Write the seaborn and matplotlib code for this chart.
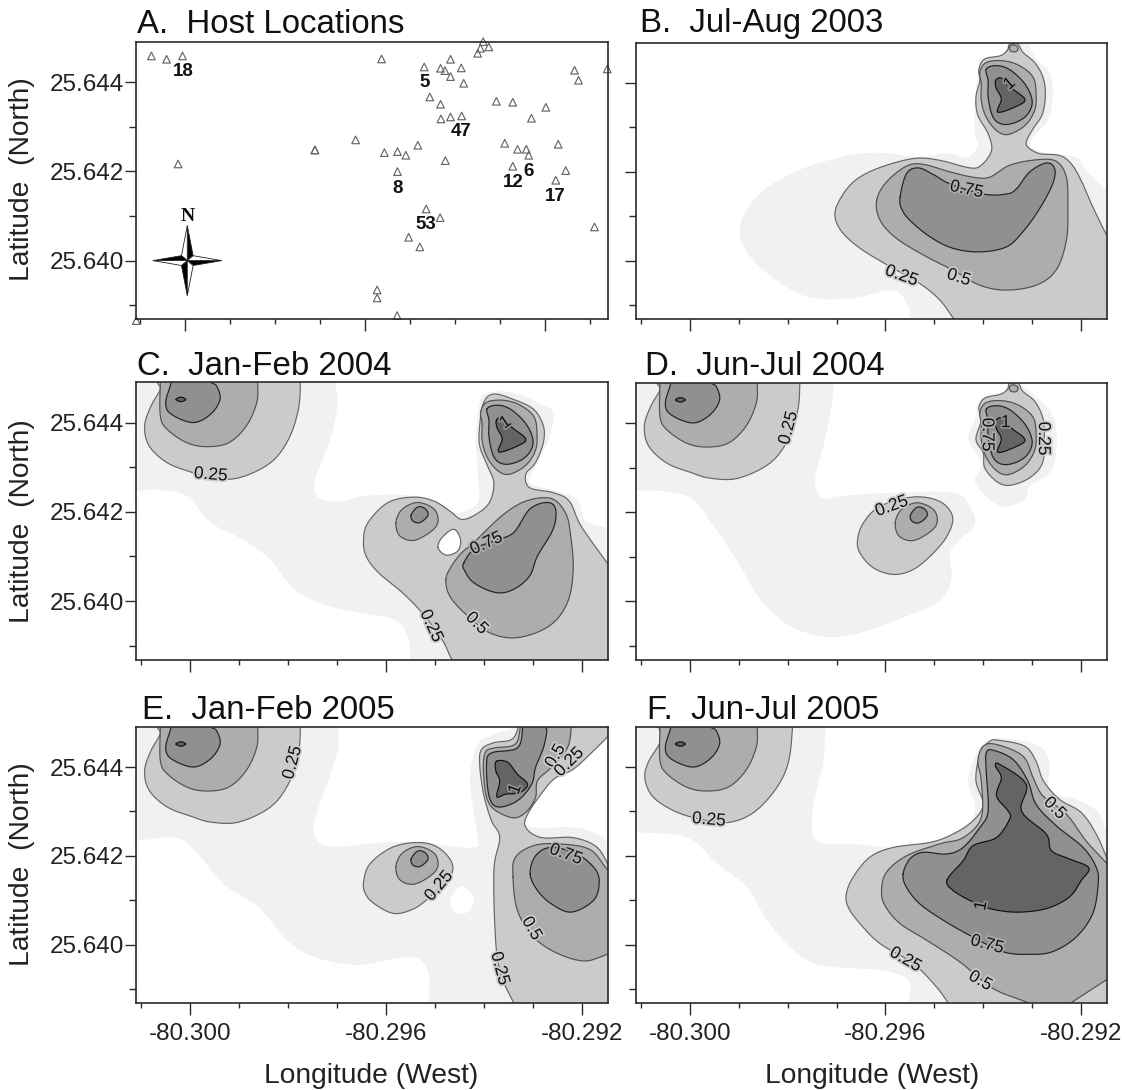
import numpy as np
import matplotlib
matplotlib.use('Agg')
import matplotlib.pyplot as plt
import matplotlib.patheffects as pe
from matplotlib.ticker import FixedLocator, FormatStrFormatter
import seaborn as sns

# all coordinates, in 1/1000 degree from the origin below
lon0 = -80.300
lat0 = 25.640

# panel A, host trees
host_x = [-0.754, -0.417, -0.062, -0.160, 4.364, 5.313, 5.676, 5.774, 5.898, 6.137, 5.898, 6.191, 6.501, 6.563,
          6.625, 6.749, 8.656, 8.745, 9.384, 5.437, 5.676, 6.918, 7.282, 8.018, 7.698, 5.685, 5.898, 6.146,
          3.787, 2.882, 2.882, 4.426, 4.718, 4.905, 5.171, 5.783, 7.104, 7.388, 7.583, 7.636, 8.293, 7.282,
          4.718, 8.461, 8.239, 5.357, 5.667, 9.100, 4.967, 5.215, 4.266, 4.266, 4.710, -1.091]
host_y = [4.591, 4.516, 4.591, 2.168, 4.523, 4.344, 4.314, 4.262, 4.516, 4.322, 4.127, 3.978, 4.650, 4.763,
          4.912, 4.793, 4.269, 4.045, 4.299, 3.671, 3.507, 3.574, 3.551, 3.439, 3.193, 3.178, 3.222, 3.245,
          2.707, 2.482, 2.482, 2.422, 2.445, 2.363, 2.587, 2.243, 2.632, 2.497, 2.497, 2.363, 2.609, 2.116,
          1.996, 2.019, 1.802, 1.159, 0.964, 0.755, 0.523, 0.307, -0.658, -0.837, -1.234, -1.346]
host_names = ['18', '5', '47', '8', '12', '6', '17', '53']
name_x = [-0.044, 5.313, 6.137, 4.718, 7.282, 7.628, 8.230, 5.357]
name_y = [4.232, 3.987, 2.894, 1.622, 1.742, 2.000, 1.443, 0.815]

# peak in the north-east, same in B, C, D
peak_050 = [(5.93, 4.24), (6.06, 4.46), (6.40, 4.50), (6.74, 4.39), (7.02, 4.13), (7.08, 3.75), (7.05, 3.38),
            (6.85, 3.04), (6.51, 2.84), (6.27, 2.93), (6.06, 3.23), (5.96, 3.60), (5.96, 3.98)]
peak_075 = [(6.06, 4.31), (6.27, 4.39), (6.54, 4.30), (6.85, 3.98), (7.00, 3.60), (6.91, 3.30), (6.68, 3.12),
            (6.40, 3.07), (6.20, 3.23), (6.10, 3.68), (6.10, 4.05)]
peak_100 = [(6.25, 4.05), (6.37, 4.11), (6.57, 3.89), (6.85, 3.64), (6.71, 3.49), (6.30, 3.34), (6.37, 3.64),
            (6.27, 3.87)]
peak_blob = [(6.53, 4.80), (6.61, 4.86), (6.71, 4.80), (6.68, 4.71), (6.57, 4.71)]

# north-west corner, C to F
nw_025 = [(-0.67, 5.2), (-0.67, 4.90), (-0.61, 4.75), (-0.80, 4.37), (-0.93, 3.93), (-0.84, 3.48), (-0.47, 3.10),
          (0.02, 2.89), (0.42, 2.76), (0.99, 2.76), (1.64, 3.10), (2.01, 3.63), (2.21, 4.30), (2.25, 4.90), (2.25, 5.2)]
nw_050 = [(-0.61, 5.2), (-0.61, 4.90), (-0.61, 4.15), (-0.47, 3.85), (-0.07, 3.55), (0.34, 3.46), (0.79, 3.55),
          (1.15, 3.93), (1.36, 4.45), (1.38, 4.90), (1.38, 5.2)]
nw_075 = [(-0.39, 5.2), (-0.39, 4.90), (-0.50, 4.45), (-0.39, 4.19), (0.06, 4.0), (0.42, 4.19), (0.61, 4.52),
          (0.54, 4.82), (0.42, 4.92), (0.42, 5.2)]
nw_100 = [(-0.29, 4.52), (-0.19, 4.57), (-0.09, 4.52), (-0.19, 4.47)]

# small centre near -80.2955, C to E
mid_050 = [(4.20, 1.76), (4.33, 2.06), (4.65, 2.21), (4.98, 2.06), (5.06, 1.79), (4.93, 1.57), (4.57, 1.36),
           (4.28, 1.46)]
mid_075 = [(4.51, 1.93), (4.65, 2.11), (4.81, 2.06), (4.85, 1.91), (4.69, 1.76), (4.55, 1.79)]

# B
b_000 = [(6.47, 5.2), (6.81, 5.2), (7.05, 4.58), (7.36, 4.24), (7.42, 3.68), (7.32, 3.16), (7.02, 2.78),
         (6.98, 2.56), (7.36, 2.41), (7.90, 2.33), (8.10, 2.03), (8.51, 1.59), (8.8, 1.2), (8.8, -1.6), (4.50, -1.6),
         (4.50, -1.31), (4.47, -1.03), (4.16, -0.66), (3.34, -0.84), (2.39, -0.81), (1.58, -0.28), (1.14, 0.24),
         (1.02, 0.69), (1.20, 1.21), (1.65, 1.70), (2.39, 2.11), (3.34, 2.39), (4.02, 2.42), (4.70, 2.33),
         (5.25, 2.42), (5.66, 2.33), (5.89, 2.56), (5.83, 2.86), (5.83, 3.60), (5.89, 4.20), (5.96, 4.54), (6.47, 4.65)]
b_025 = [(6.49, 4.73), (6.54, 4.87), (6.71, 4.87), (6.81, 4.69), (7.05, 4.46), (7.22, 4.13), (7.27, 3.75),
         (7.21, 3.30), (7.02, 2.97), (6.89, 2.71), (6.91, 2.56), (7.15, 2.41), (7.56, 2.37), (7.80, 2.18),
         (8.00, 1.81), (8.24, 1.21), (8.52, 0.58), (8.8, 0.0), (8.8, -1.6), (5.62, -1.6), (5.40, -1.31), (5.11, -0.88),
         (4.70, -0.51), (4.09, -0.13), (3.48, 0.28), (3.11, 0.65), (2.97, 0.99), (3.04, 1.32), (3.34, 1.77),
         (3.82, 2.07), (4.57, 2.30), (5.11, 2.26), (5.72, 2.09), (5.96, 2.15), (6.17, 2.48), (6.10, 2.86),
         (5.89, 3.27), (5.85, 3.68), (5.93, 4.05), (5.91, 4.31), (6.03, 4.54), (6.34, 4.61)]
b_050 = [(3.82, 1.36), (4.02, 1.77), (4.43, 2.13), (4.77, 2.17), (5.32, 2.00), (5.79, 1.88), (6.13, 1.88),
         (6.54, 2.15), (7.08, 2.27), (7.49, 2.24), (7.70, 1.88), (7.73, 1.21), (7.70, 0.46), (7.49, -0.21),
         (7.08, -0.55), (6.47, -0.66), (5.93, -0.55), (5.38, -0.21), (4.84, 0.09), (4.23, 0.50), (3.89, 0.91)]
b_075 = [(4.30, 1.44), (4.43, 1.96), (4.67, 2.09), (4.98, 1.94), (5.32, 1.73), (6.00, 1.50), (6.47, 1.50),
         (6.68, 1.62), (6.95, 2.00), (7.29, 2.20), (7.46, 2.07), (7.42, 1.73), (7.15, 1.17), (6.81, 0.65),
         (6.47, 0.31), (5.93, 0.20), (5.38, 0.28), (4.91, 0.54), (4.50, 0.91), (4.33, 1.17)]
b_labels = [(5.66, 1.60, '0.75', -12, 0.5), (4.33, -0.34, '0.25', -20, 0.25), (5.50, -0.38, '0.5', -18, 0.25),
            (6.54, 3.98, '1', 40, 0.75)]

# C
c_000 = [(-1.5, 5.2), (2.94, 5.2), (2.96, 4.90), (3.01, 4.45), (2.90, 3.78), (2.70, 3.18), (2.54, 2.65), (2.62, 2.32),
         (3.02, 2.22), (3.59, 2.36), (4.57, 2.36), (5.14, 2.13), (5.46, 1.98), (5.87, 2.21), (5.87, 2.88),
         (5.83, 3.63), (5.91, 4.45), (6.07, 4.67), (6.60, 4.67), (7.17, 4.41), (7.41, 4.22), (7.33, 3.63),
         (7.09, 3.10), (6.93, 2.65), (7.46, 2.47), (7.90, 2.28), (8.07, 1.79), (8.55, 1.61), (8.8, 1.3), (8.8, -1.6),
         (4.49, -1.6), (4.49, -1.31), (4.45, -0.82), (4.16, -0.41), (3.43, -0.26), (2.62, -0.04), (2.05, 0.34),
         (1.64, 0.93), (1.07, 1.38), (0.42, 1.76), (-0.07, 2.36), (-0.63, 2.50), (-1.5, 2.7)]
c_025 = [(3.54, 1.38), (3.63, 1.76), (4.04, 2.21), (4.57, 2.33), (4.98, 2.24), (5.30, 2.02), (5.54, 1.83),
         (5.83, 1.94), (6.11, 2.21), (6.20, 2.65), (6.07, 3.03), (5.91, 3.48), (5.91, 3.93), (5.99, 4.45),
         (6.20, 4.64), (6.60, 4.52), (7.01, 4.30), (7.21, 3.93), (7.21, 3.55), (7.05, 3.10), (6.85, 2.84),
         (6.93, 2.54), (7.41, 2.43), (7.74, 2.24), (7.98, 1.68), (8.51, 0.86), (8.8, 0.4), (8.8, -1.6), (5.5, -1.6),
         (5.34, -1.31), (5.14, -0.86), (4.73, -0.26), (4.33, 0.19), (3.84, 0.64), (3.59, 1.01)]
c_hole = [(5.06, 1.20), (5.14, 1.42), (5.38, 1.61), (5.52, 1.38), (5.46, 1.12), (5.22, 1.03)]
c_050 = [(5.22, 0.49), (5.34, 0.79), (5.54, 1.08), (5.79, 1.31), (6.36, 1.91), (6.85, 2.24), (7.37, 2.30),
         (7.66, 1.98), (7.76, 1.53), (7.82, 0.71), (7.70, -0.04), (7.33, -0.56), (6.68, -0.82), (6.11, -0.71),
         (5.63, -0.30), (5.30, 0.11)]
c_075 = [(5.59, 0.86), (5.79, 1.16), (6.20, 1.35), (6.60, 1.53), (6.93, 2.06), (7.29, 2.21), (7.46, 2.06),
         (7.41, 1.61), (7.09, 1.01), (6.93, 0.56), (6.60, 0.26), (6.24, 0.19), (5.79, 0.41), (5.59, 0.71)]
c_labels = [(0.42, 2.83, '0.25', -5, 0.25), (4.92, -0.56, '0.25', -65, 0.25), (5.85, -0.50, '0.5', -45, 0.25),
            (6.05, 1.29, '0.75', 25, 0.5), (6.44, 4.0, '1', 35, 0.75)]

# D
d_000 = [(-1.5, 5.2), (2.94, 5.2), (2.94, 4.90), (2.90, 4.37), (2.73, 3.48), (2.56, 2.73), (2.70, 2.32), (3.07, 2.36),
         (4.02, 2.43), (5.38, 2.44), (5.72, 2.13), (5.83, 1.72), (5.52, 1.38), (5.32, 1.08), (5.35, 0.49),
         (5.11, 0.00), (4.43, -0.34), (3.48, -0.71), (2.80, -0.80), (2.05, -0.56), (1.44, 0.04), (1.03, 0.79),
         (0.49, 1.68), (-0.05, 2.36), (-1.07, 2.50), (-1.5, 2.55)]
d_000_peak = [(6.51, 4.82), (6.74, 4.86), (7.15, 4.52), (7.46, 4.07), (7.49, 3.33), (7.36, 2.88), (6.95, 2.58),
              (6.85, 2.28), (6.47, 2.12), (6.13, 2.28), (5.83, 2.69), (5.96, 3.10), (5.69, 3.63), (5.83, 4.07),
              (5.89, 4.45), (6.13, 4.64), (6.47, 4.71)]
d_025_mid = [(3.43, 1.38), (3.55, 1.76), (3.89, 2.13), (4.57, 2.34), (5.11, 2.24), (5.37, 1.91), (5.28, 1.50),
             (4.98, 1.08), (4.57, 0.71), (4.16, 0.60), (3.75, 0.75), (3.48, 1.08)]
d_025_peak = [(6.49, 4.75), (6.54, 4.9), (6.71, 4.9), (6.81, 4.71), (7.05, 4.49), (7.22, 4.11), (7.25, 3.63),
              (7.21, 3.10), (6.95, 2.77), (6.54, 2.60), (6.27, 2.69), (6.03, 2.99), (6.00, 3.33), (5.85, 3.63),
              (5.96, 4.07), (5.91, 4.34), (6.03, 4.56), (6.34, 4.64)]
d_labels = [(2.02, 3.89, '0.25', 75, 0.25), (4.13, 2.13, '0.25', 20, 0.25), (7.23, 3.65, '0.25', -90, 0.25),
            (6.08, 3.74, '0.75', -90, 0.5), (6.46, 4.01, '1', 0, 0.75)]

# E
e_000 = [(-1.5, 5.2), (3.02, 5.2), (3.02, 4.90), (3.02, 4.43), (2.82, 3.69), (2.58, 2.94), (2.54, 2.45), (2.86, 2.21),
         (3.84, 2.29), (4.65, 2.32), (5.22, 2.23), (5.79, 2.19), (5.87, 2.41), (5.71, 3.69), (5.87, 4.51),
         (6.20, 4.73), (6.60, 4.90), (6.68, 5.2), (8.8, 5.2), (8.55, 4.73), (7.98, 4.13), (7.66, 3.84), (7.09, 3.46),
         (6.76, 2.86), (7.01, 2.64), (7.82, 2.64), (8.31, 2.49), (8.55, 2.27), (8.8, 2.0), (8.8, -1.6), (4.89, -1.6),
         (4.87, -1.31), (4.85, -0.58), (4.49, -0.28), (3.43, -0.46), (2.54, -0.28), (1.97, 0.10), (1.40, 0.84),
         (0.67, 1.37), (0.10, 2.12), (-0.31, 2.41), (-1.5, 2.6)]
e_hole = [(5.30, 0.99), (5.54, 1.31), (5.79, 1.07), (5.71, 0.77), (5.46, 0.70)]
e_025_mid = [(3.54, 1.41), (3.67, 1.82), (4.12, 2.19), (4.65, 2.30), (5.06, 2.19), (5.34, 1.85), (5.30, 1.52),
             (4.89, 1.07), (4.57, 0.81), (4.16, 0.70), (3.76, 0.92), (3.58, 1.14)]
e_025 = [(6.72, 5.2), (6.70, 4.90), (6.56, 4.62), (6.20, 4.55), (5.95, 4.40), (5.91, 4.06), (5.99, 3.39), (6.15, 2.79),
         (6.32, 2.41), (6.20, 1.67), (6.24, 0.02), (6.36, -0.73), (6.60, -1.31), (6.68, -1.6), (8.8, -1.6), (8.8, 1.5),
         (8.59, 1.70), (8.31, 2.19), (7.82, 2.41), (7.17, 2.41), (6.85, 2.64), (6.89, 2.94), (7.21, 3.46),
         (7.46, 3.76), (7.82, 3.95), (8.23, 4.36), (8.55, 4.73), (8.8, 5.2)]
e_050_peak = [(6.76, 5.2), (6.74, 4.90), (6.63, 4.51), (6.20, 4.43), (6.02, 4.32), (5.99, 3.84), (6.11, 3.16),
              (6.56, 2.86), (6.85, 2.98), (7.05, 3.31), (7.09, 3.69), (7.37, 3.99), (7.70, 4.43), (7.78, 4.90),
              (7.78, 5.2)]
e_075_peak = [(6.80, 5.2), (6.79, 4.90), (6.68, 4.43), (6.15, 4.32), (6.05, 4.06), (6.10, 3.35), (6.28, 3.10),
              (6.68, 3.24), (6.97, 3.61), (7.05, 3.99), (7.21, 4.43), (7.28, 4.81), (7.25, 4.92), (7.25, 5.2)]
e_100 = [(6.25, 4.13), (6.48, 4.11), (6.68, 3.84), (6.89, 3.61), (6.72, 3.42), (6.44, 3.39), (6.26, 3.33),
         (6.32, 3.69), (6.24, 3.91)]
e_050 = [(6.59, 1.52), (6.64, 1.97), (7.01, 2.23), (7.50, 2.27), (8.15, 2.15), (8.51, 1.70), (8.8, 1.4), (8.8, -0.3),
         (8.59, -0.20), (8.07, -0.37), (7.50, -0.20), (7.01, 0.17), (6.68, 0.77)]
e_075 = [(6.94, 1.59), (7.05, 2.00), (7.37, 2.19), (7.90, 2.04), (8.27, 1.70), (8.35, 1.37), (8.23, 0.99),
         (7.78, 0.73), (7.37, 0.92), (7.09, 1.22)]
e_labels = [(2.09, 4.10, '0.25', 75, 0.25), (5.08, 1.32, '0.25', 50, 0.25), (6.32, -0.54, '0.25', -75, 0.25),
            (6.97, 0.36, '0.5', -60, 0.25), (7.67, 2.03, '0.75', -20, 0.5), (7.46, 4.25, '0.5', 60, 0.25),
            (7.74, 4.11, '0.25', 45, 0.25), (6.64, 3.50, '1', 70, 0.75)]

# F
f_000 = [(-1.5, 5.2), (2.77, 5.2), (2.77, 4.90), (2.73, 4.13), (2.56, 3.31), (2.49, 2.64), (2.66, 2.30), (3.34, 2.27),
         (4.16, 2.19), (5.32, 2.41), (5.83, 3.01), (5.69, 3.69), (5.89, 4.36), (6.13, 4.62), (6.61, 4.62),
         (7.15, 4.47), (7.36, 4.06), (7.36, 3.46), (7.97, 3.24), (8.38, 2.94), (8.58, 2.34), (8.8, 2.0), (8.8, -1.6),
         (4.47, -1.6), (4.47, -1.31), (4.47, -0.80), (3.89, -0.58), (2.66, -0.46), (2.12, -0.13), (1.58, 0.55),
         (1.17, 1.29), (0.56, 1.82), (-0.05, 2.41), (-1.04, 2.53), (-1.5, 2.6)]
f_025_nw = [(-0.63, 5.2), (-0.63, 4.90), (-0.60, 4.58), (-0.84, 4.13), (-0.92, 3.76), (-0.77, 3.35), (-0.39, 3.05),
            (0.08, 2.86), (0.76, 2.75), (1.31, 2.98), (1.78, 3.54), (2.02, 4.13), (2.10, 4.90), (2.10, 5.2)]
f_025 = [(3.20, 1.14), (3.34, 1.52), (3.68, 1.97), (4.16, 2.19), (4.91, 2.30), (5.38, 2.49), (5.79, 2.79),
         (6.00, 3.16), (5.85, 3.69), (5.93, 4.28), (6.13, 4.58), (6.34, 4.60), (6.85, 4.47), (7.08, 4.13),
         (7.23, 3.69), (7.56, 3.27), (8.00, 2.98), (8.31, 2.49), (8.58, 1.82), (8.8, 1.3), (8.8, -1.6), (5.45, -1.6),
         (5.28, -1.31), (5.04, -0.95), (4.57, -0.43), (3.89, 0.02), (3.48, 0.47), (3.24, 0.84)]
f_050 = [(3.92, 1.22), (4.02, 1.63), (4.43, 2.00), (5.11, 2.27), (5.59, 2.41), (5.96, 2.86), (5.96, 3.69),
         (5.89, 4.13), (6.00, 4.47), (6.27, 4.51), (6.81, 4.25), (7.02, 3.76), (7.22, 3.35), (7.70, 2.94),
         (8.10, 2.34), (8.51, 1.85), (8.8, 1.5), (8.8, -0.6), (8.51, -0.80), (7.80, -1.31), (7.42, -1.6), (6.91, -1.31),
         (6.20, -0.99), (5.52, -0.39), (4.84, 0.10), (4.30, 0.47), (3.99, 0.88)]
f_075 = [(4.36, 1.59), (4.50, 1.93), (4.77, 2.08), (5.25, 2.04), (5.59, 2.19), (5.93, 2.64), (6.10, 3.01),
         (6.06, 3.91), (6.06, 4.32), (6.20, 4.38), (6.61, 4.17), (6.91, 3.69), (7.08, 3.16), (7.49, 2.68),
         (8.04, 2.19), (8.31, 1.74), (8.35, 1.37), (8.24, 0.70), (7.90, 0.17), (7.42, -0.16), (6.95, -0.22),
         (6.40, -0.16), (5.72, 0.21), (5.18, 0.55), (4.70, 0.92), (4.43, 1.29)]
f_100 = [(5.26, 1.46), (5.59, 1.89), (5.79, 2.23), (6.27, 2.41), (6.54, 2.83), (6.51, 3.01), (6.27, 3.35),
         (6.37, 3.76), (6.25, 4.02), (6.34, 4.06), (6.88, 3.61), (6.78, 3.01), (7.29, 2.49), (7.39, 2.12),
         (7.76, 1.93), (8.16, 1.73), (8.00, 1.44), (7.76, 1.07), (7.29, 0.81), (6.68, 0.73), (6.13, 0.81),
         (5.79, 0.96), (5.38, 1.22)]
f_labels = [(0.39, 2.81, '0.25', -5, 0.25), (4.41, -0.34, '0.25', -30, 0.25), (5.94, -0.82, '0.5', -30, 0.25),
            (6.08, 0.00, '0.75', -15, 0.5), (5.96, 0.88, '1', 80, 0.75), (7.46, 3.07, '0.5', -45, 0.25)]

# drawing order = order in the list
panels = {
    'B': ([(0, b_000), (0.25, b_025), (0.5, peak_blob), (0.5, peak_050), (0.5, b_050), (0.75, b_075),
           (0.75, peak_075), (1, peak_100)], b_labels),
    'C': ([(0, c_000), (0.25, nw_025), (0.25, c_025), ('hole', c_hole), (0.5, nw_050), (0.5, c_050), (0.5, mid_050),
           (0.5, peak_050), (0.75, nw_075), (0.75, c_075), (0.75, mid_075), (0.75, peak_075), (1, nw_100),
           (1, peak_100)], c_labels),
    'D': ([(0, d_000), (0, d_000_peak), (0.25, nw_025), (0.25, d_025_mid), (0.25, d_025_peak), (0.5, peak_blob),
           (0.5, nw_050), (0.5, mid_050), (0.5, peak_050), (0.75, nw_075), (0.75, mid_075), (0.75, peak_075),
           (1, nw_100), (1, peak_100)], d_labels),
    'E': ([(0, e_000), ('gap', e_hole), (0.25, nw_025), (0.25, e_025_mid), (0.25, e_025), (0.5, nw_050),
           (0.5, mid_050), (0.5, e_050_peak), (0.5, e_050), (0.75, nw_075), (0.75, mid_075), (0.75, e_075_peak),
           (0.75, e_075), (1, nw_100), (1, e_100)], e_labels),
    'F': ([(0, f_000), (0.25, f_025_nw), (0.25, f_025), (0.5, nw_050), (0.5, f_050), (0.75, nw_075), (0.75, f_075),
           (1, nw_100), (1, f_100)], f_labels),
}

titles = {'A': 'A.  Host Locations', 'B': 'B.  Jul-Aug 2003', 'C': 'C.  Jan-Feb 2004',
          'D': 'D.  Jun-Jul 2004', 'E': 'E.  Jan-Feb 2005', 'F': 'F.  Jun-Jul 2005'}

fills = {0: '#f1f1f1', 0.25: '#cbcbcb', 0.5: '#adadad', 0.75: '#909090', 1: '#646464', 'hole': 'white', 'gap': 'white'}
edges = {0.25: '#666666', 0.5: '#505050', 0.75: '#222222', 1: '#111111', 'hole': '#666666'}

W, H = 1135, 1090
# axes boxes and title anchor in pixels: left, top, right, bottom, title x, title baseline
boxes = {'A': (136.3, 41.7, 608, 319, 137, 33), 'B': (636, 42.5, 1107, 319, 640, 32),
         'C': (136.3, 382, 608, 659.5, 137, 375), 'D': (636, 382.5, 1107, 659.5, 645, 375),
         'E': (136.3, 726.7, 608, 1002.7, 141.5, 719), 'F': (636, 726.7, 1107, 1002.7, 647, 719)}

sns.set_theme(style='ticks')
plt.rcParams['font.family'] = ['Liberation Sans', 'DejaVu Sans']
plt.rcParams['axes.unicode_minus'] = False
plt.rcParams['axes.linewidth'] = 1.2
plt.rcParams['axes.edgecolor'] = '#2a2a2a'


def smooth(pts, n=6):
    p = np.array(pts, dtype=float)
    p0, p1, p2, p3 = np.roll(p, 1, axis=0), p, np.roll(p, -1, axis=0), np.roll(p, -2, axis=0)
    out = []
    for t in np.linspace(0, 1, n, endpoint=False):
        out.append(0.5 * (2 * p1 + (p2 - p0) * t + (2 * p0 - 5 * p1 + 4 * p2 - p3) * t ** 2
                          + (3 * p1 - p0 - 3 * p2 + p3) * t ** 3))
    return np.stack(out, axis=1).reshape(-1, 2)


def draw_contours(ax, shapes, labels):
    z = 2
    for level, pts in shapes:
        p = smooth(pts)
        xs = lon0 + p[:, 0] / 1000
        ys = lat0 + p[:, 1] / 1000
        ax.fill(xs, ys, color=fills[level], lw=0, zorder=z)
        if level in edges:
            sns.lineplot(x=np.append(xs, xs[0]), y=np.append(ys, ys[0]), sort=False, estimator=None,
                         color=edges[level], lw=0.85, zorder=z + 0.5, ax=ax)
        z += 1
    for x, y, txt, rot, lev in labels:
        ax.text(lon0 + x / 1000, lat0 + y / 1000, txt, fontsize=12.5, rotation=rot, rotation_mode='anchor',
                ha='center', va='center', color='#111111', zorder=50,
                path_effects=[pe.withStroke(linewidth=2.5, foreground=fills[lev])])


def draw_compass(ax):
    cx, cy = 0.044, 0.0
    ax_h, ax_w = 0.785, 0.767
    wx, wy = 0.13, 0.11
    arms = [((0, ax_h), (wx, wy), (-wx, wy)), ((ax_w, 0), (wx, -wy), (wx, wy)),
            ((0, -ax_h), (-wx, -wy), (wx, -wy)), ((-ax_w, 0), (-wx, wy), (-wx, -wy))]
    for tip, dark, light in arms:
        for side, col in ((dark, 'black'), (light, 'white')):
            poly = np.array([(0, 0), tip, side])
            ax.fill(lon0 + (cx + poly[:, 0]) / 1000, lat0 + (cy + poly[:, 1]) / 1000, facecolor=col,
                    edgecolor='#222222', lw=0.6, zorder=6)
    ax.text(lon0 + cx / 1000, lat0 + 1.0 / 1000, 'N', fontsize=14, fontweight='bold',
            family='Liberation Serif', ha='center', va='center', color='#111111')


fig = plt.figure(figsize=(W / 100, H / 100), dpi=100)
lat_major = [25.640, 25.642, 25.644]
lat_minor = [25.639, 25.641, 25.643]
lon_major = [-80.300, -80.296, -80.292]
lon_minor = [-80.301, -80.299, -80.298, -80.297, -80.295, -80.294, -80.293, -80.291]

for key in 'ABCDEF':
    l, t, r, b, tx, ty = boxes[key]
    ax = fig.add_axes([l / W, 1 - b / H, (r - l) / W, (b - t) / H])

    if key == 'A':
        sns.scatterplot(x=[lon0 + v / 1000 for v in host_x], y=[lat0 + v / 1000 for v in host_y], marker='^', s=30,
                        facecolor='none', edgecolor='#666666', linewidth=0.85, clip_on=False, zorder=5, ax=ax)
        for nm, x, y in zip(host_names, name_x, name_y):
            ax.text(lon0 + x / 1000, lat0 + y / 1000, nm, fontsize=13.5, fontweight='bold', ha='center', va='center',
                    color='#111111', zorder=6)
        draw_compass(ax)
        ax.set_xlim(-80.30109, -80.2906)
    else:
        shapes, labels = panels[key]
        draw_contours(ax, shapes, labels)
        ax.set_xlim(-80.30110, -80.29147)
    ax.set_ylim(25.63869, 25.64491)

    ax.xaxis.set_major_locator(FixedLocator(lon_major))
    ax.xaxis.set_minor_locator(FixedLocator(lon_minor))
    ax.yaxis.set_major_locator(FixedLocator(lat_major))
    ax.yaxis.set_minor_locator(FixedLocator(lat_minor))
    ax.xaxis.set_major_formatter(FormatStrFormatter('%.3f'))
    ax.yaxis.set_major_formatter(FormatStrFormatter('%.3f'))
    ax.set_xlabel('')
    ax.set_ylabel('')
    ax.tick_params(axis='x', which='major', length=8.6, width=1, color='#2a2a2a', labelsize=17.5, pad=6,
                   labelcolor='#222222', labelbottom=key in 'EF')
    ax.tick_params(axis='x', which='minor', length=3.8, width=1, color='#2a2a2a')
    ax.tick_params(axis='y', which='major', length=8, width=1, color='#2a2a2a', labelsize=17.5, pad=1,
                   labelcolor='#222222', labelleft=key in 'ACE')
    ax.tick_params(axis='y', which='minor', length=5, width=1, color='#2a2a2a')
    for s in ax.spines.values():
        s.set_visible(True)
        s.set_zorder(60)

    fig.text(tx / W, 1 - ty / H, titles[key], fontsize=23.8, ha='left', va='baseline', color='#111111')

for yc in (179, 521, 864):
    fig.text(22 / W, 1 - yc / H, 'Latitude  (North)', fontsize=20.3, rotation=90, ha='center', va='center',
             color='#222222')
for xc in (371, 872):
    fig.text(xc / W, 1 - 1076 / H, 'Longitude (West)', fontsize=20.3, ha='center', va='center', color='#222222')

fig.savefig('out.png', dpi=100, facecolor='white')
